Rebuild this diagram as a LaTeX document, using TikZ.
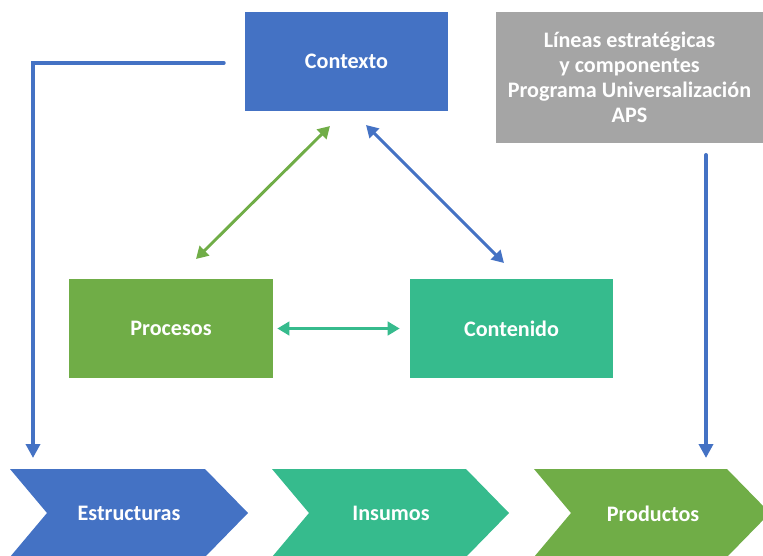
\documentclass[tikz,border=0pt]{standalone}
\usepackage{fontspec}
\setmainfont{Carlito}
\usetikzlibrary{arrows.meta}
\definecolor{cblue}{RGB}{68,114,196}
\definecolor{cgreen}{RGB}{112,173,71}
\definecolor{cteal}{RGB}{54,187,141}
\definecolor{cgray}{RGB}{165,165,165}
\tikzset{
  box/.style={rectangle, draw=none, text=white, font=\fontsize{16.6}{18.75}\selectfont\bfseries, align=center, inner sep=0pt},
  lbl/.style={text=white, font=\fontsize{16.6}{18.75}\selectfont\bfseries, inner sep=0pt},
  conn/.style={line width=3pt, -{Triangle[length=10.5pt,width=10.5pt]}},
  dconn/.style={line width=2.2pt, {Triangle[length=9pt,width=10pt]}-{Triangle[length=9pt,width=10pt]}}
}
\begin{document}
\begin{tikzpicture}[x=0.75pt,y=-0.75pt]
\useasboundingbox (0,0) rectangle (763,556);
% boxes
\node[box, fill=cblue, minimum width=152.25pt, minimum height=74.25pt] (ctx) at (346.5,61.5) {Contexto};
\node[box, fill=cgray, minimum width=200.25pt, minimum height=98.25pt] (lin) at (629.5,77.5) {Líneas estratégicas\\y componentes\\Programa Universalización\\APS};
\node[box, fill=cgreen, minimum width=153pt, minimum height=74.25pt] (pro) at (171,328.5) {Procesos};
\node[box, fill=cteal, minimum width=152.25pt, minimum height=74.25pt] (con) at (511.5,328.5) {Contenido};
% chevrons
\fill[cblue] (10,469) -- (205,469) -- (248,513) -- (205,557) -- (10,557) -- (47,513) -- cycle;
\fill[cteal] (272,469) -- (466,469) -- (509,513) -- (466,557) -- (272,557) -- (309,513) -- cycle;
\fill[cgreen] (534,469) -- (727,469) -- (770,513) -- (727,557) -- (534,557) -- (571,513) -- cycle;
\node[lbl] (est) at (129,513) {Estructuras};
\node[lbl] (ins) at (391,513) {Insumos};
\node[lbl] (prd) at (653,514) {Productos};
% coordinates
\coordinate (estin) at (33,458);
\coordinate (prdin) at (706,458);
\coordinate (linout) at (706,155);
\coordinate (ctxa) at (330,126);
\coordinate (ctxb) at (366,125);
\coordinate (proa) at (196,259);
\coordinate (cona) at (504,263);
% connectors
\draw[conn, cblue, line cap=round] ([xshift=-15.75pt,yshift=-1pt]ctx.west) -| (estin);
\draw[conn, cblue, line cap=round] (linout) -- (prdin);
\draw[dconn, cgreen] (ctxa) -- (proa);
\draw[dconn, cblue] (ctxb) -- (cona);
\draw[dconn, cteal] ([xshift=3pt]pro.east) -- ([xshift=-7.5pt]con.west);
\end{tikzpicture}
\end{document}
